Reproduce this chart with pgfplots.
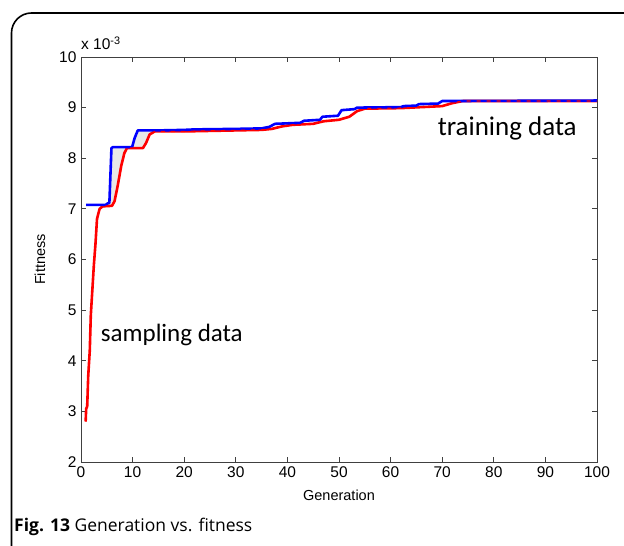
\documentclass[border=0pt]{standalone}
\usepackage{pgfplots}
\usepackage{pgfplotstable}
\pgfplotsset{compat=1.18}
\usepackage{fontspec}
\setmainfont{Liberation Sans}
\newfontfamily\calib{Carlito}
\newfontfamily\capfont{Open Sans}

\pgfplotstableread{
x y
1.0 7.08
4.8 7.08
5.2 7.11
5.5 7.12
5.9 8.20
6.2 8.22
9.9 8.22
10.4 8.40
11.0 8.55
15 8.55
20 8.56
22 8.57
30 8.58
35 8.59
36.5 8.62
37.6 8.68
42.5 8.70
43.2 8.74
46.3 8.76
46.8 8.82
49.8 8.84
50.5 8.95
53 8.97
53.5 9.00
62 9.01
62.5 9.03
65 9.04
65.5 9.07
69.2 9.08
70 9.13
100 9.14
}\bluedata

\pgfplotstableread{
x y
0.9 2.80
1.0 3.05
1.2 3.10
1.4 3.70
1.7 4.20
1.9 4.90
2.2 5.40
2.5 5.90
2.8 6.30
3.1 6.80
3.6 7.00
4.2 7.05
6.0 7.06
6.5 7.15
7.1 7.45
7.8 7.85
8.4 8.10
8.9 8.20
12.0 8.20
12.6 8.30
13.3 8.47
14.3 8.53
20 8.53
25 8.54
30 8.55
35 8.56
37 8.58
39 8.63
41 8.66
45 8.68
47 8.73
50 8.76
52 8.82
53.5 8.93
55 8.98
62 8.99
66 9.01
70 9.03
72 9.09
74 9.13
100 9.13
}\reddata

\pgfplotstableread{
x y
4.2 7.07
4.8 7.08
5.2 7.11
5.5 7.12
5.9 8.20
6.2 8.22
9.9 8.22
10.4 8.40
11.0 8.55
14.3 8.55
14.3 8.53
13.3 8.47
12.6 8.30
12.0 8.20
8.9 8.20
8.4 8.10
7.8 7.85
7.1 7.45
6.5 7.15
6.0 7.06
4.2 7.05
}\gapdata

\begin{document}
\begin{tikzpicture}
\useasboundingbox (0pt,0pt) rectangle (624pt,546pt);
\begin{scope}
\clip (0pt,0pt) rectangle (624pt,546pt);
\draw[line width=1.6pt, rounded corners=20pt] (11.5pt,-10pt) -- (11.5pt,533pt) -- (640pt,533pt);
\end{scope}
\begin{axis}[
  at={(81pt,84pt)}, anchor=south west,
  scale only axis, width=516pt, height=405pt,
  xmin=0, xmax=100, ymin=2, ymax=10,
  xtick={0,10,...,100}, ytick={2,3,...,10},
  tick pos=both, tick align=inside,
  major tick length=5pt,
  axis line style={black!75, line width=0.8pt},
  major tick style={black!75, line width=0.8pt},
  tick label style={font=\fontsize{15.5}{18}\selectfont},
  /pgf/number format/assume math mode=true,
  xticklabel style={yshift=-1pt},
  yticklabel style={xshift=-1pt},
  xlabel={Generation}, ylabel={Fittness},
  label style={font=\fontsize{14.5}{17}\selectfont},
  xlabel style={at={(rel axis cs:0.5,0)}, anchor=center, yshift=-33pt},
  ylabel style={at={(rel axis cs:0,0.5)}, anchor=center, yshift=41pt},
  clip=false,
]
\addplot[fill=gray!18, draw=none, forget plot] table[x=x,y=y] {\gapdata} -- cycle;
\addplot[red, line width=2.6pt, line join=round] table[x=x,y=y] {\reddata};
\addplot[blue, line width=2.6pt, line join=round] table[x=x,y=y] {\bluedata};
\addplot[red, line width=1.3pt, dash pattern=on 4pt off 6pt] table[x=x,y=y] {\reddata};
\node[font=\calib\fontsize{25}{30}\selectfont, anchor=center] at (axis cs:17.6,4.51) {sampling data};
\node[font=\calib\fontsize{27}{32}\selectfont, anchor=center] at (axis cs:82.6,8.59) {training data};
\end{axis}
\node[anchor=west, font=\fontsize{15.5}{18}\selectfont, inner sep=0pt] at (81pt,503pt) {x 10\textsuperscript{-3}};
\node[anchor=west, font=\capfont\fontsize{17.5}{21}\selectfont, inner sep=0pt] at (14pt,19pt) {\textbf{Fig. 13} Generation vs. fitness};
\end{tikzpicture}
\end{document}
